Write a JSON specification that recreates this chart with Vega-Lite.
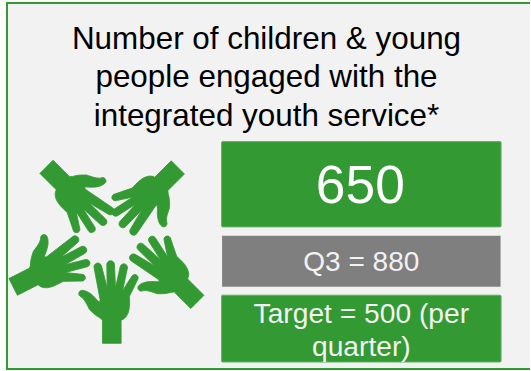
{
  "$schema": "https://vega.github.io/schema/vega-lite/v6.json",
  "width": 531,
  "height": 371,
  "autosize": {"type": "fit", "contains": "padding"},
  "padding": 0,
  "background": "#ffffff",
  "view": {"stroke": null},
  "config": {
    "text": {"font": "Liberation Sans", "align": "center", "baseline": "alphabetic"},
    "axis": {"disable": true}
  },
  "datasets": {
    "panel": [{"part": "background"}],
    "heading": [{"text": "Number of children & young\npeople engaged with the\nintegrated youth service*"}],
    "cards": [
      {"card": "Latest quarter", "value": 650, "label": "650"},
      {"card": "Q3", "value": 880, "label": "Q3 = 880"},
      {"card": "Target", "value": 500, "label": "Target = 500 (per\nquarter)"}
    ],
    "hands": [
      {"hand": "bottom"},
      {"hand": "right"},
      {"hand": "left"},
      {"hand": "upper left"},
      {"hand": "upper right"}
    ]
  },
  "encoding": {
    "x": {"type": "quantitative", "scale": {"domain": [0, 531], "nice": false, "zero": false}, "axis": null},
    "y": {"type": "quantitative", "scale": {"domain": [371, 0], "nice": false, "zero": false}, "axis": null}
  },
  "layer": [
    {
      "data": {"name": "panel"},
      "mark": {"type": "rect", "fill": "#f2f2f2", "stroke": null},
      "encoding": {"x": {"datum": 7}, "x2": {"datum": 531}, "y": {"datum": 3}, "y2": {"datum": 370}}
    },
    {
      "data": {"name": "panel"},
      "mark": {"type": "rule", "stroke": "#339933", "strokeWidth": 2},
      "encoding": {"x": {"datum": 7}, "x2": {"datum": 531}, "y": {"datum": 3}}
    },
    {
      "data": {"name": "panel"},
      "mark": {"type": "rule", "stroke": "#339933", "strokeWidth": 2},
      "encoding": {"x": {"datum": 7}, "x2": {"datum": 531}, "y": {"datum": 370}}
    },
    {
      "data": {"name": "panel"},
      "mark": {"type": "rule", "stroke": "#339933", "strokeWidth": 2},
      "encoding": {"x": {"datum": 7}, "y": {"datum": 2}, "y2": {"datum": 371}}
    },
    {
      "data": {"name": "heading"},
      "mark": {"type": "text", "fontSize": 31.4, "fill": "#000000", "lineBreak": "\n", "lineHeight": 38.5},
      "encoding": {"x": {"datum": 267}, "y": {"datum": 49}, "text": {"field": "text"}}
    },
    {
      "data": {"name": "cards"},
      "transform": [{"filter": "datum.card === 'Latest quarter'"}],
      "mark": {"type": "rect", "fill": "#339933", "stroke": "#5fb05f", "strokeWidth": 1, "cornerRadius": 1},
      "encoding": {"x": {"datum": 222}, "x2": {"datum": 502}, "y": {"datum": 142}, "y2": {"datum": 227.5}}
    },
    {
      "data": {"name": "cards"},
      "transform": [{"filter": "datum.card === 'Q3'"}],
      "mark": {"type": "rect", "fill": "#7f7f7f", "stroke": null},
      "encoding": {"x": {"datum": 222.5}, "x2": {"datum": 501.5}, "y": {"datum": 236.5}, "y2": {"datum": 287.5}}
    },
    {
      "data": {"name": "cards"},
      "transform": [{"filter": "datum.card === 'Target'"}],
      "mark": {"type": "rect", "fill": "#339933", "stroke": "#5fb05f", "strokeWidth": 1, "cornerRadius": 1},
      "encoding": {"x": {"datum": 222}, "x2": {"datum": 502}, "y": {"datum": 296}, "y2": {"datum": 363}}
    },
    {
      "data": {"name": "cards"},
      "transform": [{"filter": "datum.card === 'Latest quarter'"}],
      "mark": {"type": "text", "fontSize": 53.3, "fill": "#ffffff"},
      "encoding": {"x": {"datum": 361}, "y": {"datum": 204}, "text": {"field": "label"}}
    },
    {
      "data": {"name": "cards"},
      "transform": [{"filter": "datum.card === 'Q3'"}],
      "mark": {"type": "text", "fontSize": 28, "fill": "#f2f2f2"},
      "encoding": {"x": {"datum": 362}, "y": {"datum": 272}, "text": {"field": "label"}}
    },
    {
      "data": {"name": "cards"},
      "transform": [{"filter": "datum.card === 'Target'"}],
      "mark": {"type": "text", "fontSize": 28.2, "fill": "#f2f2f2", "lineBreak": "\n", "lineHeight": 33},
      "encoding": {"x": {"datum": 362}, "y": {"datum": 323.5}, "text": {"field": "label"}}
    },
    {
      "data": {"name": "hands"},
      "transform": [{"filter": "datum.hand === 'bottom'"}],
      "mark": {"type": "point", "filled": true, "opacity": 1, "fill": "#339933", "stroke": "#339933", "strokeWidth": 0.8, "size": 4, "angle": 0,
        "shape": "M-9.33 43.67L-9.33 20.33L-11.67 18.33C-17 15.5 -20 12 -22.5 9.5C-25 5 -27 -1 -31.67 -3.33A3.33 3.33 0 0 1 -29.33 -9.33C-25 -9 -20 -6 -15 0L-12.33 2.67L-11.67 0L-17.67 -31.67A3.7 3.7 0 0 1 -10.33 -34L-5 -13.33L-4.67 -13.33L-5 -35A3.8 3.8 0 0 1 2.67 -35.33L3.67 -13.33L4 -13.33L8.33 -32.67A3.7 3.7 0 0 1 15.67 -31.67L11 -10L11.33 -10L20 -23.33A3.4 3.4 0 0 1 26.33 -21L17.67 -3.33C18 3 18 11 15.5 15C14 18 12 19.5 9.33 20.5L9.33 43.67Z"},
      "encoding": {"x": {"datum": 112}, "y": {"datum": 300.5}}
    },
    {
      "data": {"name": "hands"},
      "transform": [{"filter": "datum.hand === 'right'"}],
      "mark": {"type": "point", "filled": true, "opacity": 1, "fill": "#339933", "stroke": "#339933", "strokeWidth": 0.8, "size": 4, "angle": -45,
        "shape": "M-9.33 43.67L-9.33 20.33L-11.67 18.33C-17 15.5 -20 12 -22.5 9.5C-25 5 -27 -1 -31.67 -3.33A3.33 3.33 0 0 1 -29.33 -9.33C-25 -9 -20 -6 -15 0L-12.33 2.67L-11.67 0L-17.67 -31.67A3.7 3.7 0 0 1 -10.33 -34L-5 -13.33L-4.67 -13.33L-5 -35A3.8 3.8 0 0 1 2.67 -35.33L3.67 -13.33L4 -13.33L8.33 -32.67A3.7 3.7 0 0 1 15.67 -31.67L11 -10L11.33 -10L20 -23.33A3.4 3.4 0 0 1 26.33 -21L17.67 -3.33C18 3 18 11 15.5 15C14 18 12 19.5 9.33 20.5L9.33 43.67Z"},
      "encoding": {"x": {"datum": 166.8}, "y": {"datum": 271.8}}
    },
    {
      "data": {"name": "hands"},
      "transform": [{"filter": "datum.hand === 'left'"}],
      "mark": {"type": "point", "filled": true, "opacity": 1, "fill": "#339933", "stroke": "#339933", "strokeWidth": 0.8, "size": 4, "angle": 63,
        "shape": "M-9.33 43.67L-9.33 20.33L-11.67 18.33C-17 15.5 -20 12 -22.5 9.5C-25 5 -27 -1 -31.67 -3.33A3.33 3.33 0 0 1 -29.33 -9.33C-25 -9 -20 -6 -15 0L-12.33 2.67L-11.67 0L-17.67 -31.67A3.7 3.7 0 0 1 -10.33 -34L-5 -13.33L-4.67 -13.33L-5 -35A3.8 3.8 0 0 1 2.67 -35.33L3.67 -13.33L4 -13.33L8.33 -32.67A3.7 3.7 0 0 1 15.67 -31.67L11 -10L11.33 -10L20 -23.33A3.4 3.4 0 0 1 26.33 -21L17.67 -3.33C18 3 18 11 15.5 15C14 18 12 19.5 9.33 20.5L9.33 43.67Z"},
      "encoding": {"x": {"datum": 52.2}, "y": {"datum": 267.8}}
    },
    {
      "data": {"name": "hands"},
      "transform": [{"filter": "datum.hand === 'upper left'"}],
      "mark": {"type": "point", "filled": true, "opacity": 1, "fill": "#339933", "stroke": "#339933", "strokeWidth": 0.8, "size": 4, "angle": 135,
        "shape": "M-9.33 43.67L-9.33 20.33L-11.67 18.33C-17 15.5 -20 12 -22.5 9.5C-25 5 -27 -1 -31.67 -3.33A3.33 3.33 0 0 1 -29.33 -9.33C-25 -9 -20 -6 -15 0L-12.33 2.67L-11.67 0L-17.67 -31.67A3.7 3.7 0 0 1 -10.33 -34L-5 -13.33L-4.67 -13.33L-5 -35A3.8 3.8 0 0 1 2.67 -35.33L3.67 -13.33L4 -13.33L8.33 -32.67A3.7 3.7 0 0 1 15.67 -31.67L11 -10L11.33 -10L20 -23.33A3.4 3.4 0 0 1 26.33 -21L17.67 -3.33C18 3 18 11 15.5 15C14 18 12 19.5 9.33 20.5L9.33 43.67Z"},
      "encoding": {"x": {"datum": 77.5}, "y": {"datum": 198.2}}
    },
    {
      "data": {"name": "hands"},
      "transform": [{"filter": "datum.hand === 'upper right'"}],
      "mark": {"type": "point", "filled": true, "opacity": 1, "fill": "#339933", "stroke": "#339933", "strokeWidth": 0.8, "size": 4, "angle": -135,
        "shape": "M-9.33 43.67L-9.33 20.33L-11.67 18.33C-17 15.5 -20 12 -22.5 9.5C-25 5 -27 -1 -31.67 -3.33A3.33 3.33 0 0 1 -29.33 -9.33C-25 -9 -20 -6 -15 0L-12.33 2.67L-11.67 0L-17.67 -31.67A3.7 3.7 0 0 1 -10.33 -34L-5 -13.33L-4.67 -13.33L-5 -35A3.8 3.8 0 0 1 2.67 -35.33L3.67 -13.33L4 -13.33L8.33 -32.67A3.7 3.7 0 0 1 15.67 -31.67L11 -10L11.33 -10L20 -23.33A3.4 3.4 0 0 1 26.33 -21L17.67 -3.33C18 3 18 11 15.5 15C14 18 12 19.5 9.33 20.5L9.33 43.67Z"},
      "encoding": {"x": {"datum": 147.2}, "y": {"datum": 198.8}}
    }
  ]
}
